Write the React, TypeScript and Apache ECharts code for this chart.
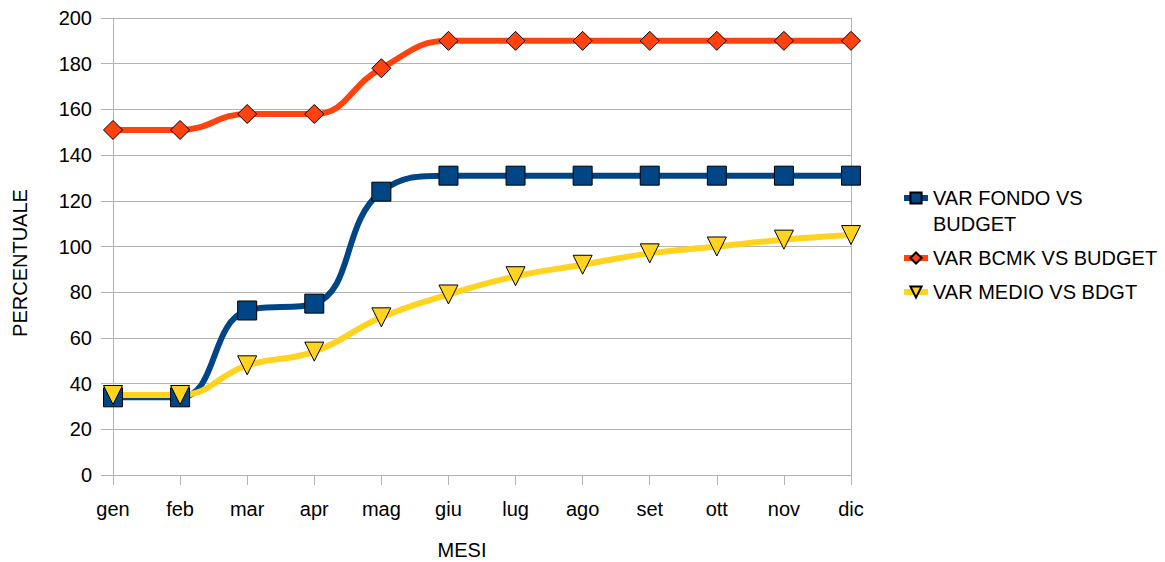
import React, { useEffect, useRef } from "react";
import * as echarts from "echarts";

const months = ["gen", "feb", "mar", "apr", "mag", "giu", "lug", "ago", "set", "ott", "nov", "dic"];
const fondo = [34, 34, 72, 75, 124, 131, 131, 131, 131, 131, 131, 131];
const bcmk = [151, 151, 158, 158, 178, 190, 190, 190, 190, 190, 190, 190];
const medio = [35, 35, 48, 54, 69, 79, 87, 92, 97, 100, 103, 105];
const seriesNames = ["VAR FONDO VS BUDGET", "VAR BCMK VS BUDGET", "VAR MEDIO VS BDGT"];
const legendLabels: Record<string, string> = {
  "VAR FONDO VS BUDGET": "\nVAR FONDO VS\nBUDGET",
  "VAR BCMK VS BUDGET": "VAR BCMK VS BUDGET",
  "VAR MEDIO VS BDGT": "VAR MEDIO VS BDGT",
};
const xTitle = "MESI";
const yTitle = "PERCENTUALE";

export default function App() {
  const ref = useRef<HTMLDivElement>(null);
  useEffect(() => {
    if (!ref.current) return;
    const chart = echarts.init(ref.current, null, { renderer: "svg" });
    const font = "'Liberation Sans', Arial, sans-serif";
    const mk = (name: string, data: number[], color: string, symbol: string, size: number, rotate = 0) => ({
      name,
      type: "line",
      data,
      smooth: 0.45,
      symbol,
      symbolSize: size,
      symbolRotate: rotate,
      lineStyle: { color, width: 6 },
      itemStyle: { color, borderColor: "#000", borderWidth: 1 },
      z: 3,
    });
    chart.setOption({
      animation: false,
      backgroundColor: "#fff",
      textStyle: { fontFamily: font },
      grid: { left: 113, right: 314, top: 18, bottom: 87, containLabel: false },
      xAxis: {
        type: "category",
        data: months,
        boundaryGap: false,
        axisLine: { show: true, lineStyle: { color: "#b3b3b3", width: 1 } },
        axisTick: { show: true, length: 10, lineStyle: { color: "#b3b3b3" } },
        axisLabel: { fontSize: 20, color: "#000", margin: 24, fontFamily: font },
        splitLine: { show: false },
      },
      yAxis: {
        type: "value",
        min: 0,
        max: 200,
        interval: 20,
        axisLine: { show: true, lineStyle: { color: "#b3b3b3", width: 1 } },
        axisTick: { show: true, length: 12, lineStyle: { color: "#b3b3b3" } },
        axisLabel: { fontSize: 20, color: "#000", margin: 21, fontFamily: font },
        splitLine: { show: true, lineStyle: { color: "#b3b3b3", width: 1 } },
      },
      graphic: [
        {
          type: "line",
          shape: { x1: 851.5, y1: 18, x2: 851.5, y2: 475 },
          style: { stroke: "#b3b3b3", lineWidth: 1 },
          silent: true,
        },
        {
          type: "text",
          x: 462,
          y: 550,
          style: { text: xTitle, fontSize: 20, fill: "#000", fontFamily: font, align: "center", verticalAlign: "middle" },
          silent: true,
        },
        {
          type: "text",
          x: 20,
          y: 263,
          rotation: Math.PI / 2,
          style: { text: yTitle, fontSize: 20, fill: "#000", fontFamily: font, align: "center", verticalAlign: "middle" },
          silent: true,
        },
      ],
      legend: {
        orient: "vertical",
        left: 896,
        top: 154,
        itemWidth: 24,
        itemHeight: 14,
        itemGap: 8,
        data: seriesNames,
        lineStyle: { width: 6 },
        formatter: (n: string) => legendLabels[n] || n,
        textStyle: { fontSize: 20, color: "#000", lineHeight: 26, fontFamily: font },
      },
      series: [
        mk(seriesNames[0], fondo, "#004586", "rect", 19),
        mk(seriesNames[1], bcmk, "#ff420e", "diamond", 19),
        mk(seriesNames[2], medio, "#ffd320", "triangle", 19, 180),
      ],
    });
    return () => chart.dispose();
  }, []);
  return <div ref={ref} style={{ width: 1165, height: 562, position: "absolute", left: 0, top: 0 }} />;
}
